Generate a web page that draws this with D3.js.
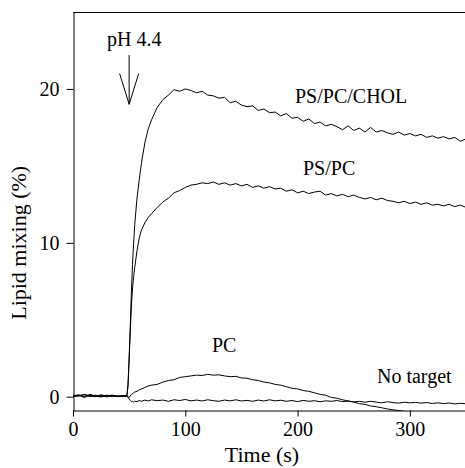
<!DOCTYPE html>
<html>
   <head>
      <style>
         body { margin: 0; background: #fff; }
         .trace { fill: none; stroke: #000; stroke-width: 1; }
         .axis text { font-family: "Liberation Serif", "Times New Roman", serif; font-size: 20px; fill: #000; }
         .axis path, .axis line { stroke: #000; stroke-width: 1; }
         .lbl { font-family: "Liberation Serif", "Times New Roman", serif; font-size: 20px; fill: #000; }
         .title { font-family: "Liberation Serif", "Times New Roman", serif; font-size: 22px; fill: #000; }
      </style>
      <script src="https://d3js.org/d3.v7.min.js"></script>
      <title>Lipid mixing</title>
   </head>
   <body>
      <svg width="465" height="468"></svg>
      <script>
         // time points (s)
         var times = [0,5,10,15,20,25,30,35,40,45,48,49,50,51,52,53,54,55,57,59,61,64,67,70,
            75,80,85,90,95,100,105,110,115,120,125,130,135,140,145,150,155,160,165,170,175,180,
            185,190,195,200,205,210,215,220,225,230,235,240,245,250,255,260,265,270,275,280,
            285,290,295,300,305,310,315,320,325,330,335,340,345,350];

         var psPcChol = [0.05,0.12,0.0,0.15,0.05,0.1,-0.02,0.08,0.03,0.06,0.05,0.8,2.6,4.6,6.8,8.6,10.0,11.2,12.9,14.1,15.2,16.5,17.4,18.0,
            18.8,19.3,19.6,19.95,19.85,20.0,19.9,19.75,19.85,19.6,19.55,19.4,19.45,19.1,19.2,18.95,18.85,18.9,18.6,18.7,18.45,18.5,
            18.25,18.4,18.1,18.15,17.9,18.05,17.75,17.85,17.6,17.7,17.55,17.35,17.6,17.3,17.45,17.2,17.5,17.2,17.3,17.15,
            17.05,17.2,17.0,17.1,16.95,17.05,16.85,16.95,16.8,16.9,16.75,16.85,16.6,16.75];

         var psPc = [0.0,0.08,0.12,0.02,0.1,0.0,0.06,0.1,0.02,0.05,0.05,0.7,2.4,4.2,5.9,7.0,7.8,8.4,9.5,10.3,10.85,11.3,11.65,11.9,
            12.3,12.65,12.9,13.25,13.4,13.6,13.75,13.8,13.9,13.85,13.95,13.8,13.9,13.75,13.85,13.7,13.8,13.6,13.7,13.55,13.65,13.5,
            13.55,13.35,13.45,13.25,13.35,13.2,13.3,13.35,13.1,13.2,13.05,13.15,13.0,13.1,12.95,12.85,12.95,12.8,12.9,12.75,
            12.7,12.6,12.7,12.55,12.65,12.5,12.6,12.45,12.5,12.4,12.5,12.35,12.45,12.3];

         var pc = [0.1,0.02,0.15,0.05,0.0,0.12,0.04,0.08,0.0,0.06,0.05,0.0,-0.05,0.05,0.15,0.2,0.25,0.3,0.35,0.45,0.5,0.6,0.7,0.75,
            0.8,0.95,1.05,1.1,1.25,1.3,1.35,1.4,1.38,1.45,1.4,1.42,1.35,1.3,1.32,1.22,1.2,1.1,1.05,0.95,0.9,0.8,
            0.75,0.65,0.55,0.5,0.4,0.35,0.25,0.15,0.1,-0.05,-0.1,-0.2,-0.28,-0.35,-0.45,-0.5,-0.6,-0.65,-0.72,-0.8,
            -0.85,-0.9,-0.95,-1.0,-1.0,-1.0,-1.0,-1.0,-1.0,-1.0,-1.0,-1.0,-1.0,-1.0];

         var noTarget = [0.0,0.1,-0.05,0.08,0.03,-0.02,0.1,0.0,0.05,0.02,0.05,-0.05,-0.15,-0.25,-0.33,-0.3,-0.35,-0.3,-0.32,-0.25,-0.3,-0.22,-0.28,-0.2,
            -0.26,-0.22,-0.3,-0.2,-0.25,-0.18,-0.27,-0.22,-0.28,-0.2,-0.26,-0.3,-0.22,-0.27,-0.2,-0.28,-0.24,-0.3,-0.22,-0.28,-0.2,-0.27,
            -0.23,-0.3,-0.25,-0.32,-0.24,-0.3,-0.26,-0.33,-0.27,-0.3,-0.25,-0.32,-0.28,-0.34,-0.3,-0.36,-0.3,-0.35,-0.4,-0.33,
            -0.38,-0.42,-0.36,-0.4,-0.37,-0.42,-0.38,-0.44,-0.4,-0.45,-0.41,-0.47,-0.43,-0.46];

         var xTicks = [0, 100, 200, 300];
         var yTicks = [0, 10, 20];

         // annotation labels in data units
         var labels = [
            { text: "PS/PC/CHOL", t: 197.7, v: 19.1 },
            { text: "PS/PC", t: 204.8, v: 14.4 },
            { text: "PC", t: 123.8, v: 2.9 },
            { text: "No target", t: 270.7, v: 0.89 }
         ];

         var svg = d3.select("svg");

         var x = d3.scaleLinear().domain([0, 350]).range([73, 466]),
             y = d3.scaleLinear().domain([-0.93, 25]).range([411, 12]);

         svg.append("defs").append("clipPath")
            .attr("id", "plot")
            .append("rect")
            .attr("x", x(0)).attr("y", y(25))
            .attr("width", x(350) - x(0))
            .attr("height", y(-0.93) - y(25));

         var line = d3.line()
            .x(function(d, i) { return x(times[i]); })
            .y(function(d) { return y(d); });

         [psPcChol, psPc, pc, noTarget].forEach(function(s) {
            svg.append("path")
               .datum(s)
               .attr("class", "trace")
               .attr("clip-path", "url(#plot)")
               .attr("d", line);
         });

         // top frame line
         svg.append("line")
            .attr("x1", x(0)).attr("x2", x(350))
            .attr("y1", y(25) + 0.5).attr("y2", y(25) + 0.5)
            .attr("stroke", "#000");

         svg.append("g")
            .attr("class", "axis")
            .attr("transform", "translate(0," + (y(-0.93) - 0.5) + ")")
            .call(d3.axisBottom(x).tickValues(xTicks).tickSize(6).tickSizeOuter(0).tickPadding(5));

         svg.append("g")
            .attr("class", "axis")
            .attr("transform", "translate(" + (x(0) + 0.5) + ",0)")
            .call(d3.axisLeft(y).tickValues(yTicks).tickSize(7).tickSizeOuter(0).tickPadding(7));

         svg.selectAll(".axis").attr("font-family", null).attr("font-size", null);

         svg.append("text")
            .attr("class", "title")
            .attr("x", 262).attr("y", 462)
            .attr("text-anchor", "middle")
            .text("Time (s)");

         svg.append("text")
            .attr("class", "title")
            .attr("transform", "translate(26," + y(10) + ") rotate(-90)")
            .attr("text-anchor", "middle")
            .text("Lipid mixing (%)");

         // pH arrow
         var arrowT = 50, wing = 8.5;
         svg.append("path")
            .attr("fill", "none")
            .attr("stroke", "#000")
            .attr("d", "M" + x(arrowT) + "," + y(22.2) + "L" + x(arrowT) + "," + y(19)
               + "M" + x(arrowT - wing) + "," + y(21) + "L" + x(arrowT) + "," + y(19)
               + "L" + x(arrowT + wing) + "," + y(21));

         svg.append("text")
            .attr("class", "lbl")
            .attr("x", x(30.3)).attr("y", y(22.79))
            .text("pH 4.4");

         svg.selectAll(".serieslbl")
            .data(labels)
            .enter()
            .append("text")
            .attr("class", "lbl")
            .attr("x", function(d) { return x(d.t); })
            .attr("y", function(d) { return y(d.v); })
            .text(function(d) { return d.text; });
      </script>
   </body>
</html>
